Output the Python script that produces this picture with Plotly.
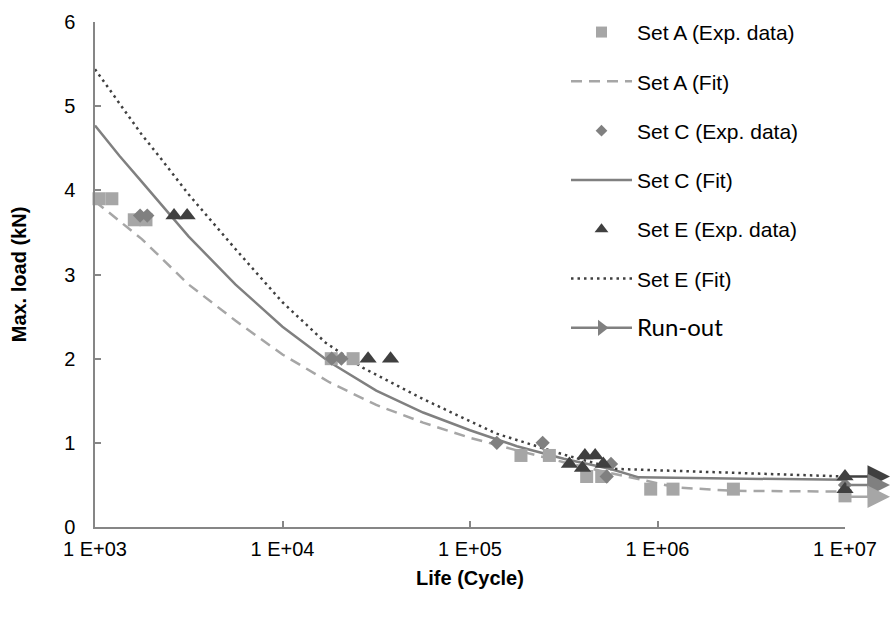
import numpy as np
import plotly.graph_objects as go

# ---------------- data ----------------
setA_N = [1050, 1230, 1620, 1870, 18200, 23800, 187000, 265000, 419000, 504000, 920000, 1210000, 2540000, 10000000]
setA_P = [3.9, 3.9, 3.65, 3.65, 2.0, 2.0, 0.85, 0.85, 0.6, 0.6, 0.45, 0.45, 0.45, 0.37]

setC_N = [1740, 1900, 18300, 20600, 139000, 244000, 536000, 565000, 10000000]
setC_P = [3.7, 3.7, 2.0, 2.0, 1.0, 1.0, 0.6, 0.75, 0.5]

setE_N = [2640, 3100, 28600, 37700, 339000, 398000, 410000, 465000, 514000, 10000000, 10000000]
setE_P = [3.7, 3.7, 2.0, 2.0, 0.75, 0.7, 0.85, 0.85, 0.75, 0.6, 0.45]

fitA_logN = [3.0, 3.09, 3.25, 3.5, 3.75, 4.0, 4.25, 4.5, 4.75, 5.0, 5.25, 5.5, 5.75, 6.0, 6.1, 6.4, 7.0]
fitA_P = [3.87, 3.71, 3.42, 2.88, 2.45, 2.05, 1.72, 1.45, 1.24, 1.06, 0.91, 0.77, 0.64, 0.52, 0.47, 0.43, 0.42]

fitC_logN = [3.0, 3.13, 3.25, 3.5, 3.75, 4.0, 4.25, 4.5, 4.75, 5.0, 5.25, 5.5, 5.75, 5.9, 7.0]
fitC_P = [4.77, 4.41, 4.10, 3.45, 2.88, 2.38, 1.96, 1.62, 1.36, 1.15, 0.96, 0.81, 0.69, 0.59, 0.56]

fitE_logN = [3.0, 3.25, 3.34, 3.5, 3.75, 4.0, 4.23, 4.43, 4.75, 4.91, 5.14, 5.5, 5.78, 7.0]
fitE_P = [5.44, 4.66, 4.41, 3.95, 3.30, 2.67, 2.19, 1.89, 1.52, 1.35, 1.11, 0.86, 0.69, 0.60]

runout_P = [0.6, 0.5, 0.36]
runout_colors = ["#404040", "#808080", "#A6A6A6"]

tick_vals = [1e3, 1e4, 1e5, 1e6, 1e7]
tick_text = ["1 E+03", "1 E+04", "1 E+05", "1 E+06", "1 E+07"]

# ---------------- figure ----------------
FONT = "Liberation Sans, Arial, sans-serif"
fig = go.Figure()

def marker_trace(x, y, symbol, color, size):
    return go.Scatter(x=x, y=y, mode="markers", showlegend=False,
                      marker=dict(symbol=symbol, color=color, size=size, line=dict(width=0)),
                      cliponaxis=False)

def line_trace(logx, y, color, dash, width):
    return go.Scatter(x=[10 ** v for v in logx], y=y, mode="lines", showlegend=False,
                      line=dict(color=color, dash=dash, width=width))

def legend_entry(name, group, mode, color, symbol=None, size=None, dash="solid"):
    kw = dict(x=[None], y=[None], mode=mode, name=name, legendgroup=group)
    if "markers" in mode:
        kw["marker"] = dict(symbol=symbol, color=color, size=size, line=dict(width=0))
    if "lines" in mode:
        kw["line"] = dict(color=color, dash=dash, width=2.5)
    return go.Scatter(**kw)

fig.add_trace(line_trace(fitA_logN, fitA_P, "#A6A6A6", "11px,7px", 2.5))
fig.add_trace(line_trace(fitC_logN, fitC_P, "#808080", "solid", 2.5))
fig.add_trace(line_trace(fitE_logN, fitE_P, "#404040", "2.5px,4px", 2.5))
fig.add_trace(marker_trace(setA_N, setA_P, "square", "#A6A6A6", 13))
fig.add_trace(marker_trace(setC_N, setC_P, "diamond", "#808080", 11))
fig.add_trace(marker_trace(setE_N, setE_P, "triangle-up", "#404040", 15))

fig.add_trace(legend_entry("Set A (Exp. data)", "g1", "markers", "#A6A6A6", "square", 11))
fig.add_trace(legend_entry("Set A (Fit)", "g2", "lines", "#A6A6A6", dash="11px,7px"))
fig.add_trace(legend_entry("Set C (Exp. data)", "g3", "markers", "#808080", "diamond", 9))
fig.add_trace(legend_entry("Set C (Fit)", "g4", "lines", "#808080"))
fig.add_trace(legend_entry("Set E (Exp. data)", "g5", "markers", "#404040", "triangle-up", 12))
fig.add_trace(legend_entry("Set E (Fit)", "g6", "lines", "#404040", dash="2.5px,4px"))
fig.add_trace(legend_entry('<span style="font-family:Lato, sans-serif; font-size:24px">Run-out</span>',
                           "g7", "lines+markers", "#808080", "triangle-right", 14))

# run-out arrows
for p, c in zip(runout_P, runout_colors):
    fig.add_annotation(x=7.24, y=p, ax=7.0, ay=p, xref="x", yref="y", axref="x", ayref="y",
                       text="", showarrow=True, arrowhead=2, arrowsize=1.8, arrowwidth=2.5,
                       arrowcolor=c)

axis_common = dict(showgrid=False, zeroline=False, showline=True, linecolor="#868686", linewidth=1.5,
                   ticks="inside", ticklen=6, tickcolor="#868686", tickwidth=1.5,
                   tickfont=dict(family=FONT, size=20, color="black"))

fig.update_xaxes(type="log", range=[3, 7], tickvals=tick_vals, ticktext=tick_text,
                 ticklabelstandoff=3,
                 title=dict(text="<b>Life (Cycle)</b>", font=dict(family=FONT, size=20, color="black"), standoff=12),
                 **axis_common)
fig.update_yaxes(range=[0, 6], dtick=1, ticklabelstandoff=14,
                 title=dict(text="<b>Max. load (kN)</b>", font=dict(family=FONT, size=20, color="black"), standoff=32),
                 **axis_common)

fig.update_layout(
    width=893, height=617,
    margin=dict(l=95, r=48, t=14, b=90),
    paper_bgcolor="white", plot_bgcolor="white",
    font=dict(family=FONT, size=20, color="black"),
    legend=dict(x=0.628, y=1.02, xanchor="left", yanchor="top", tracegroupgap=19,
                itemwidth=61, maxheight=600, bgcolor="rgba(0,0,0,0)",
                font=dict(family=FONT, size=21, color="black")),
)

fig.write_html("out.html")
